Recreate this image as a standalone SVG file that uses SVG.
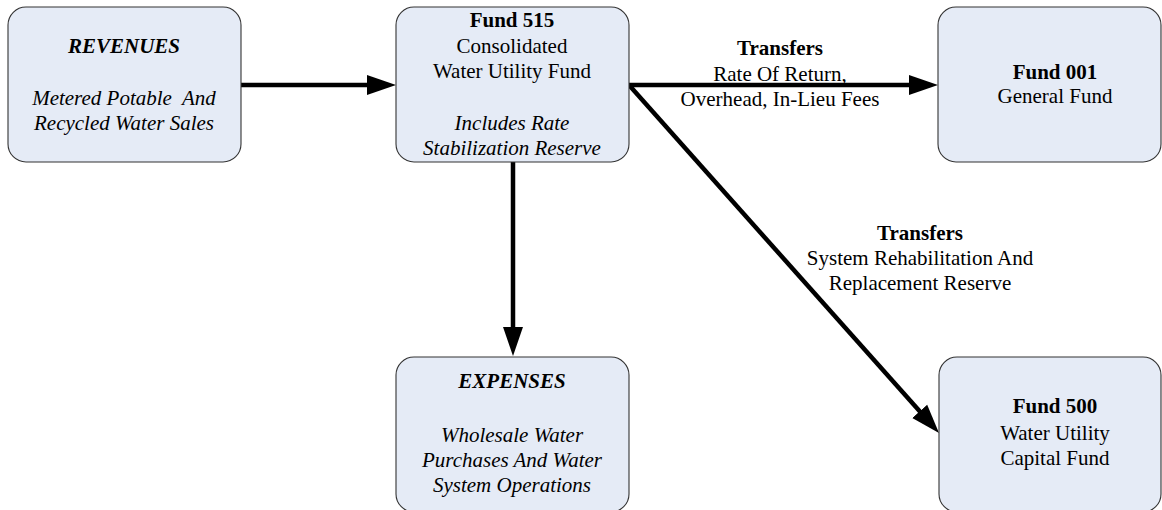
<svg xmlns="http://www.w3.org/2000/svg" width="1162" height="510" viewBox="0 0 1162 510">
<style>
.box{fill:#E5EBF6;stroke:#333;stroke-width:1.1}
text{font-family:'Liberation Serif','Times New Roman',serif;font-size:21px;fill:#000;text-anchor:middle}
.b{font-weight:bold}
.i{font-style:italic}
.bi{font-weight:bold;font-style:italic}
.c{fill:none;stroke:#000;stroke-width:4.5}
</style>
<defs>
<marker id="ah" markerUnits="userSpaceOnUse" markerWidth="30" markerHeight="22" viewBox="0 0 30 22" refX="9" refY="11" orient="auto">
<path d="M0,1 L29,11 L0,21 z" fill="#000"/>
</marker>
</defs>
<g id="connectors">
<path class="c" d="M241,85 L376,85" marker-end="url(#ah)"/>
<path class="c" d="M629,85 L918,85" marker-end="url(#ah)"/>
<path class="c" d="M513,162 L513,336" marker-end="url(#ah)"/>
<path class="c" d="M629,85 L925.7,418.1" marker-end="url(#ah)"/>
</g>
<g id="revenues">
<rect class="box" x="8" y="7" width="233" height="155" rx="18"/>
<text class="bi" x="124" y="53">REVENUES</text>
<text class="i" x="124" y="105" xml:space="preserve">Metered Potable  And</text>
<text class="i" x="124" y="130">Recycled Water Sales</text>
</g>
<g id="fund515">
<rect class="box" x="396" y="7" width="233" height="155" rx="18"/>
<text class="b" x="512" y="27">Fund 515</text>
<text x="512" y="53">Consolidated</text>
<text x="512" y="78">Water Utility Fund</text>
<text class="i" x="512" y="130">Includes Rate</text>
<text class="i" x="512" y="155">Stabilization Reserve</text>
</g>
<g id="fund001">
<rect class="box" x="938" y="7" width="223" height="155" rx="18"/>
<text class="b" x="1055" y="79">Fund 001</text>
<text x="1055" y="103">General Fund</text>
</g>
<g id="expenses">
<rect class="box" x="396" y="357" width="233" height="155" rx="18"/>
<text class="bi" x="512" y="388">EXPENSES</text>
<text class="i" x="512" y="442">Wholesale Water</text>
<text class="i" x="512" y="467">Purchases And Water</text>
<text class="i" x="512" y="492">System Operations</text>
</g>
<g id="fund500">
<rect class="box" x="939" y="357" width="222" height="155" rx="18"/>
<text class="b" x="1055" y="413">Fund 500</text>
<text x="1055" y="440">Water Utility</text>
<text x="1055" y="465">Capital Fund</text>
</g>
<g id="labels">
<text class="b" x="780" y="55">Transfers</text>
<text x="780" y="81">Rate Of Return,</text>
<text x="780" y="106">Overhead, In-Lieu Fees</text>
<text class="b" x="920" y="240">Transfers</text>
<text x="920" y="265">System Rehabilitation And</text>
<text x="920" y="290">Replacement Reserve</text>
</g>
</svg>
